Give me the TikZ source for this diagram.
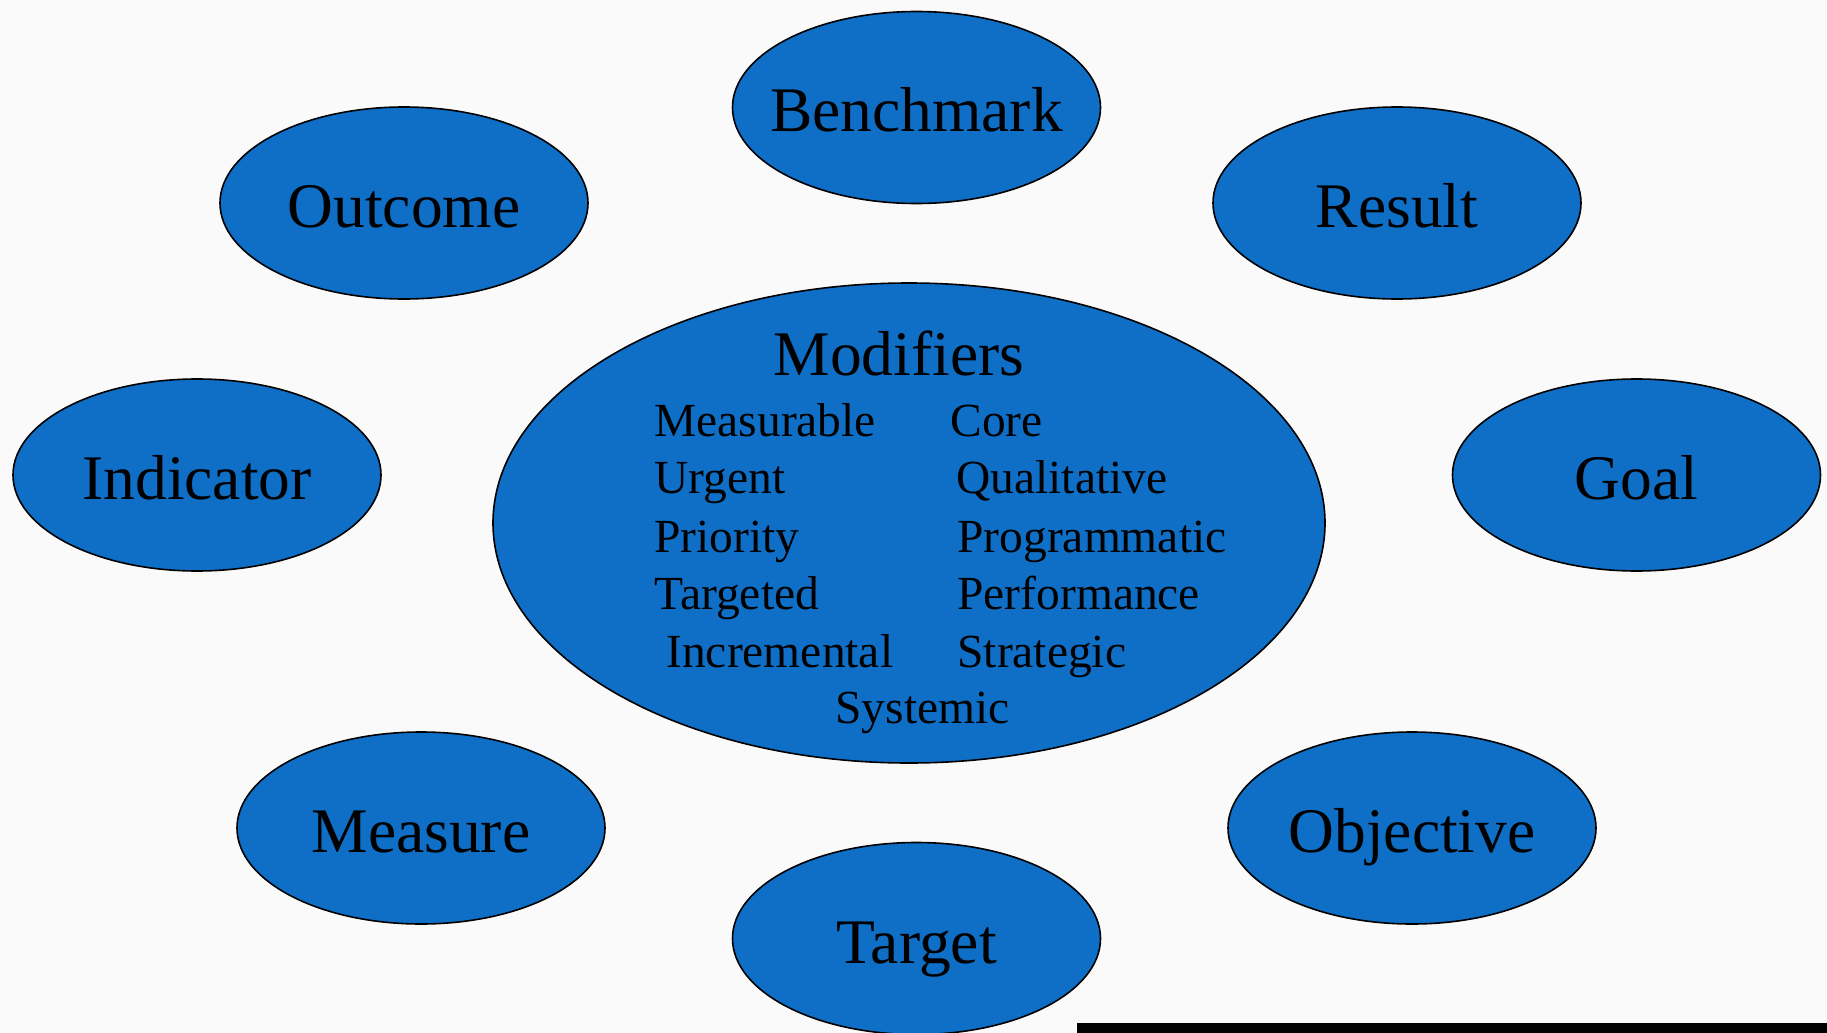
\documentclass[tikz,border=0pt]{standalone}
\usepackage{fontspec}
\setmainfont{Liberation Serif}
\usetikzlibrary{shapes.geometric}
\definecolor{bubblue}{HTML}{0F6FC6}
\definecolor{bgc}{HTML}{FAFAFA}
\tikzset{
  bub/.style={ellipse, draw=black, line width=0.8pt, fill=bubblue, inner sep=0pt,
              minimum width=184pt, minimum height=96pt},
  bigbub/.style={ellipse, draw=black, line width=0.8pt, fill=bubblue, inner sep=0pt,
              minimum width=416pt, minimum height=240pt},
  lbl/.style={inner sep=0pt, anchor=base, font=\fontsize{31.75}{38}\selectfont},
  sml/.style={inner sep=0pt, anchor=base west, font=\fontsize{23.75}{28}\selectfont},
}
\begin{document}
\begin{tikzpicture}[x=0.5pt,y=-0.5pt]
\fill[bgc] (0,0) rectangle (1827,1033);
\useasboundingbox (0,0) rectangle (1827,1033);

% outer bubbles
\node[bub] (bench) at (916.5,107.5) {};
\node[bub] (outc)  at (404,203) {};
\node[bub] (resu)  at (1397,203) {};
\node[bub] (indi)  at (197,475) {};
\node[bub] (goal)  at (1636.5,475) {};
\node[bub] (meas)  at (421,828) {};
\node[bub] (obje)  at (1412,828) {};
\node[bub] (targ)  at (916.5,938.5) {};

\node[lbl] (benchT) at ([yshift=-12pt]bench.center) {Benchmark};
\node[lbl] (outcT)  at ([yshift=-12pt]outc.center)  {Outcome};
\node[lbl] (resuT)  at ([yshift=-12pt]resu.center)  {Result};
\node[lbl] (indiT)  at ([yshift=-12pt]indi.center)  {Indicator};
\node[lbl] (goalT)  at ([yshift=-12pt]goal.center)  {Goal};
\node[lbl] (measT)  at ([yshift=-12pt]meas.center)  {Measure};
\node[lbl] (objeT)  at ([yshift=-12pt]obje.center)  {Objective};
\node[lbl] (targT)  at ([yshift=-12.5pt]targ.center) {Target};

% central bubble
\node[bigbub] (modi) at (909,523) {};
\node[lbl] (modiT) at (899,375) {Modifiers};
\node[sml] (m1) at (654,436) {Measurable};
\node[sml] (m2) at (950,436) {Core};
\node[sml] (m3) at (654,493) {Urgent};
\node[sml] (m4) at (956,493) {Qualitative};
\node[sml] (m5) at (654,552) {Priority};
\node[sml] (m6) at (957,552) {Programmatic};
\node[sml] (m7) at (654,609) {Targeted};
\node[sml] (m8) at (957,609) {Performance};
\node[sml] (m9) at (666,667) {Incremental};
\node[sml] (m10) at (957,667) {Strategic};
\node[sml] (m11) at (835,723) {Systemic};

% bottom bar
\fill[black] (1077,1023) rectangle (1827,1033);
\end{tikzpicture}
\end{document}
